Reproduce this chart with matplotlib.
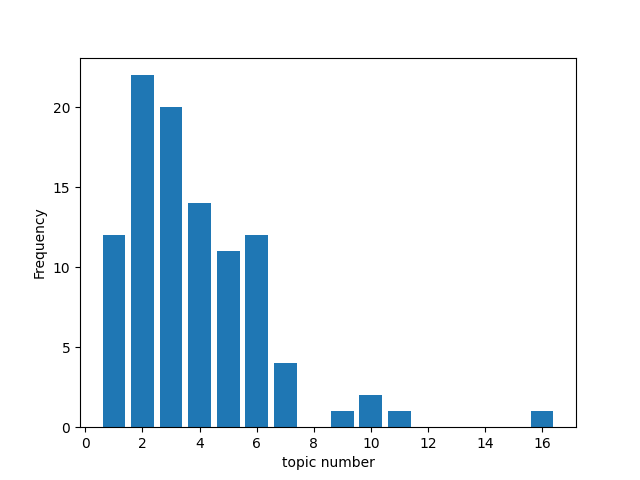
import matplotlib
matplotlib.use("Agg")
import matplotlib.pyplot as plt

topics = [1, 2, 3, 4, 5, 6, 7, 9, 10, 11, 16]
freqs = [12, 22, 20, 14, 11, 12, 4, 1, 2, 1, 1]

fig, ax = plt.subplots(figsize=(6.4, 4.8), dpi=100)
ax.bar(topics, freqs)
ax.set_xlabel("topic number")
ax.set_ylabel("Frequency")
fig.savefig("out.png")
